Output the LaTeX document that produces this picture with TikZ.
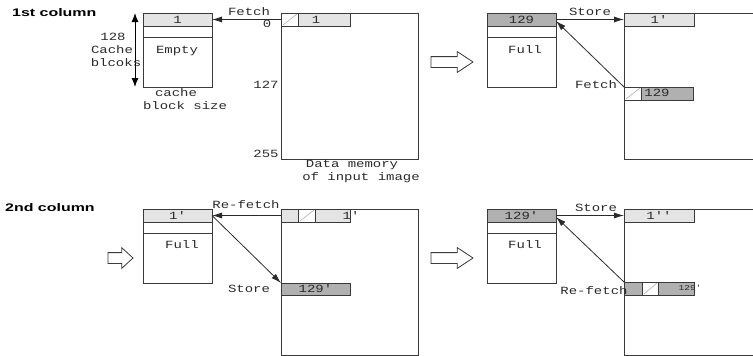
\documentclass[tikz,border=0pt]{standalone}
\usepackage{fontspec}
\usetikzlibrary{arrows.meta,shapes.arrows}
\newfontfamily\monof[FakeStretch=1.27]{Liberation Mono}
\newfontfamily\headf[FakeStretch=1.45]{Liberation Sans}
\definecolor{lightcell}{HTML}{E4E4E4}
\definecolor{darkcell}{HTML}{B0B0B0}
\definecolor{edge}{HTML}{3A3A3A}
\definecolor{inkgray}{HTML}{2A2A2A}
\tikzset{
  lbl/.style={font=\monof\fontsize{11}{12}\selectfont, text=inkgray, inner sep=0pt},
  small/.style={font=\monof\fontsize{7.5}{8}\selectfont, text=inkgray, inner sep=0pt},
  heading/.style={font=\headf\bfseries\fontsize{11}{12}\selectfont, inner sep=0pt, anchor=west},
  box/.style={draw=edge, line width=0.8pt, inner sep=0pt, outer sep=0pt, anchor=north west},
  cachebox/.style={box, minimum width=69pt, minimum height=74pt},
  membox/.style={box, minimum width=137pt, minimum height=146pt},
  cell/.style={box, lbl, minimum height=13pt},
  lcell/.style={cell, fill=lightcell},
  dcell/.style={cell, fill=darkcell},
  hcell/.style={cell, fill=white, minimum width=17pt},
  hatchline/.style={draw=gray!60, line width=0.6pt},
  arr/.style={draw=inkgray, line width=0.8pt, -{Latex[length=10pt,width=6pt]}},
  hollow/.style={single arrow, draw=edge, fill=white, line width=0.8pt,
    inner xsep=0pt, inner ysep=5pt, outer sep=0pt, anchor=tail,
    single arrow head extend=5pt, minimum width=20pt},
}
\begin{document}
\begin{tikzpicture}[x=1pt,y=-1pt]
\useasboundingbox (0,0) rectangle (753,356);
\clip (0,0) rectangle (753,356);

% ---------- 1st column, before ----------
\node[heading] (head1) at (12,13) {1st column};

\node[cachebox] (cA) at (143,13) {};
\node[lcell, minimum width=69pt] (cA1) at (143,13) {1};
\draw[edge, line width=0.8pt] (143,37) -- (212,37);
\node[lbl] (cAtxt) at (177,51) {Empty};

\draw[line width=1pt, {Latex[length=9pt,width=7pt]}-{Latex[length=9pt,width=7pt]}]
  ([xshift=-8pt]cA.north west) -- ([xshift=-8pt]cA.south west);
\node[lbl] (n128) at (113,37) {128};
\node[lbl] (ncache) at (112,50) {Cache};
\node[lbl] (nblk) at (116,63) {blcoks};
\node[lbl] (csz1) at (176,93) {cache};
\node[lbl] (csz2) at (185,106) {block size};

\node[membox] (mA) at (281,13) {};
\node[hcell] (mA0) at (281,13) {};
\draw[hatchline] ([shift={(2pt,1pt)}]mA0.south west) -- ([shift={(-1pt,-1pt)}]mA0.north east);
\node[lcell, minimum width=52pt] (mA1) at (298,13) {};
\node[lbl] (mA1t) at (316,19.5) {1};
\node[lbl] (a0) at (267,24) {0};
\node[lbl] (a127) at (266,85) {127};
\node[lbl] (a255) at (266,154) {255};
\node[lbl] (dm1) at (352,165) {Data memory};
\node[lbl] (dm2) at (361,178) {of input image};

\draw[arr] (mA0.west) -- (cA1.east);
\node[lbl] (fA) at (249,12) {Fetch};

% ---------- 1st column, after ----------
\node[hollow, minimum height=42pt, single arrow tip angle=67] (h1) at (431,62) {};

\node[cachebox] (cB) at (487,13) {};
\node[dcell, minimum width=69pt] (cB1) at (487,13) {129};
\draw[edge, line width=0.8pt] (487,37) -- (556,37);
\node[lbl] (cBtxt) at (525,50) {Full};

\node[membox] (mB) at (624,13) {};
\node[lcell, minimum width=70pt] (mB1) at (624,13) {1'};
\node[hcell] (mB0) at (624,87) {};
\draw[hatchline] ([shift={(2pt,1pt)}]mB0.south west) -- ([shift={(-1pt,-1pt)}]mB0.north east);
\node[dcell, minimum width=52pt] (mB2) at (641,87) {};
\node[lbl] (mB2t) at (657,93) {129};

\draw[arr] (cB1.east) -- (mB1.west);
\node[lbl] (sB) at (590,12) {Store};
\draw[arr] (mB0.north west) -- ([yshift=-1.5pt]cB1.east);
\node[lbl] (fB) at (596,85) {Fetch};

% ---------- 2nd column, before ----------
\node[heading] (head2) at (5,208) {2nd column};
\node[hollow, minimum height=25pt, single arrow tip angle=85] (h2) at (108,258) {};

\node[cachebox] (cC) at (143,209) {};
\node[lcell, minimum width=69pt] (cC1) at (143,209) {1'};
\draw[edge, line width=0.8pt] (143,233) -- (212,233);
\node[lbl] (cCtxt) at (182,245) {Full};

\node[membox] (mC) at (281,209) {};
\node[lcell, minimum width=17pt] (mC0) at (281,209) {};
\node[hcell] (mC1) at (298,209) {};
\draw[hatchline] ([shift={(2pt,1pt)}]mC1.south west) -- ([shift={(-1pt,-1pt)}]mC1.north east);
\node[lcell, minimum width=35pt] (mC2) at (315,209) {};
\node[lbl] (mC2t) at (351,215.5) {1'};
\node[dcell, minimum width=69pt, minimum height=12pt] (mC3) at (281,283) {129'};

\draw[arr] (mC0.west) -- (cC1.east);
\node[lbl] (rC) at (246,205) {Re-fetch};
\draw[arr] (cC1.east) -- (mC3.north west);
\node[lbl] (sC) at (249,289) {Store};

% ---------- 2nd column, after ----------
\node[hollow, minimum height=42pt, single arrow tip angle=67] (h3) at (431,258) {};

\node[cachebox] (cD) at (487,209) {};
\node[dcell, minimum width=69pt] (cD1) at (487,209) {129'};
\draw[edge, line width=0.8pt] (487,233) -- (556,233);
\node[lbl] (cDtxt) at (525,245) {Full};

\node[membox] (mD) at (624,209) {};
\node[lcell, minimum width=70pt] (mD1) at (624,209) {1''};
\node[dcell, minimum width=18pt] (mD2) at (624,282) {};
\node[hcell, minimum width=16pt] (mD3) at (642,282) {};
\draw[hatchline] ([shift={(2pt,1pt)}]mD3.south west) -- ([shift={(-1pt,-1pt)}]mD3.north east);
\node[dcell, minimum width=36pt] (mD4) at (658,282) {};
\node[small] (mD4t) at (690,288) {129'};

\draw[arr] (cD1.east) -- (mD1.west);
\node[lbl] (sD) at (596,208) {Store};
\draw[arr] (mD2.north west) -- ([yshift=-1.5pt]cD1.east);
\node[lbl] (rD) at (594,291) {Re-fetch};
\end{tikzpicture}
\end{document}
